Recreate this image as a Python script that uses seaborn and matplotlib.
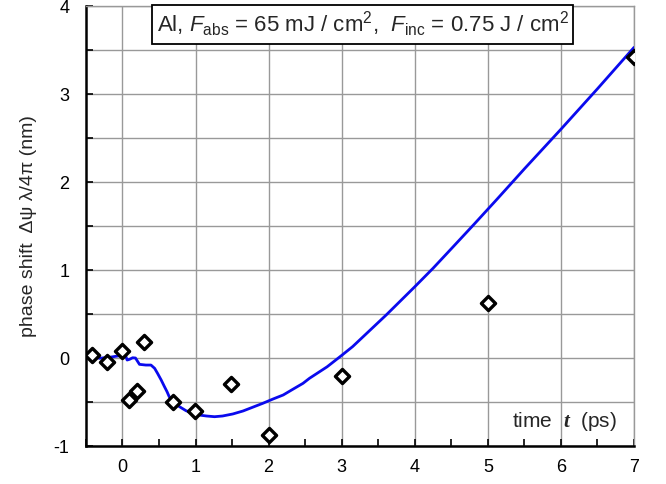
import matplotlib
matplotlib.use("Agg")
import matplotlib.pyplot as plt
import seaborn as sns
import pandas as pd
from matplotlib.ticker import MultipleLocator

# measured points
pt_t = [-0.42, -0.21, -0.01, 0.09, 0.20, 0.29, 0.69, 0.99, 1.49, 2.0, 3.0, 5.0, 7.0]
pt_y = [0.03, -0.05, 0.08, -0.48, -0.38, 0.185, -0.50, -0.60, -0.30, -0.88, -0.20, 0.63, 3.42]

# model curve
curve_t = [-0.32, -0.18, -0.04, 0.036, 0.064, 0.096, 0.14, 0.178, 0.21, 0.233, 0.32, 0.39,
           0.44, 0.48, 0.53, 0.575, 0.61, 0.64, 0.71, 0.78, 0.87, 0.96, 1.05, 1.15, 1.26,
           1.37, 1.51, 1.65, 1.78, 1.92, 2.06, 2.2, 2.33, 2.47, 2.56, 2.8, 3.0, 3.15, 3.61,
           4.0, 4.25, 4.52, 4.8, 5.12, 5.5, 6.0, 6.5, 7.0]
curve_y = [-0.003, 0.008, 0.026, 0.042, -0.023, -0.015, 0.003, 0.0, -0.042, -0.072, -0.08,
           -0.08, -0.117, -0.174, -0.25, -0.326, -0.383, -0.44, -0.508, -0.553, -0.599,
           -0.628, -0.648, -0.659, -0.667, -0.659, -0.636, -0.602, -0.56, -0.515, -0.466,
           -0.42, -0.356, -0.288, -0.23, -0.10, 0.03, 0.13, 0.49, 0.81, 1.02, 1.26, 1.51,
           1.80, 2.15, 2.60, 3.06, 3.53]

x_ticks = [0, 1, 2, 3, 4, 5, 6, 7]
y_ticks = [-1, 0, 1, 2, 3, 4]
box_text = r"Al, $F_{\rm abs}$ = 65 mJ / cm$^{2}$,  $F_{\rm inc}$ = 0.75 J / cm$^{2}$"
x_text = r"time  $\mathbf{t}$  (ps)"
y_label = "phase shift  Δψ λ/4π (nm)"

sns.set_theme(style="white")
plt.rcParams["font.family"] = ["Liberation Sans", "DejaVu Sans"]
plt.rcParams["mathtext.fontset"] = "custom"
plt.rcParams["mathtext.rm"] = "Liberation Sans"
plt.rcParams["mathtext.it"] = "Liberation Sans:italic"
plt.rcParams["mathtext.bf"] = "Liberation Serif:bold:italic"

fig = plt.figure(figsize=(6.66, 4.84), dpi=100)
ax = fig.add_axes([0.129, 0.0785, 0.823, 0.909])

curve = pd.DataFrame({"t": curve_t, "y": curve_y})
pts = pd.DataFrame({"t": pt_t, "y": pt_y})

sns.lineplot(data=curve, x="t", y="y", ax=ax, color="#0a0aee", lw=2.0, zorder=3, sort=False)
sns.scatterplot(data=pts, x="t", y="y", ax=ax, marker="D", s=52, facecolor="white",
                edgecolor="black", linewidth=2.4, zorder=4)

ax.set_xlim(-0.5, 7)
ax.set_ylim(-1, 4)
ax.set_xticks(x_ticks)
ax.set_yticks(y_ticks)
ax.xaxis.set_minor_locator(MultipleLocator(0.5))
ax.yaxis.set_minor_locator(MultipleLocator(0.5))
ax.grid(True, which="major", axis="x", color="#999999", lw=1.0)
ax.grid(True, which="both", axis="y", color="#999999", lw=1.0)
ax.set_axisbelow(True)

ax.tick_params(axis="both", which="both", direction="in", labelsize=13, colors="black",
               length=5, width=1.2)
ax.tick_params(axis="x", which="both", bottom=True, pad=9)
ax.tick_params(axis="y", which="both", left=True, pad=12)
ax.set_xticklabels([str(v) for v in x_ticks])
ax.set_yticklabels([str(v) for v in y_ticks])

for s in ["top", "right"]:
    ax.spines[s].set_color("#999999")
    ax.spines[s].set_linewidth(1.0)
for s in ["left", "bottom"]:
    ax.spines[s].set_color("black")
    ax.spines[s].set_linewidth(1.8)

ax.set_xlabel("")
ax.set_ylabel(y_label, fontsize=14, labelpad=12)

ax.text(0.5046, 0.958, box_text, transform=ax.transAxes, ha="center", va="center",
        fontsize=16, bbox=dict(boxstyle="square,pad=0.22", fc="white", ec="black", lw=1.3),
        zorder=5)
ax.text(0.874, 0.055, x_text, transform=ax.transAxes, ha="center", va="center",
        fontsize=15, zorder=5)

fig.savefig("out.png", dpi=100)
